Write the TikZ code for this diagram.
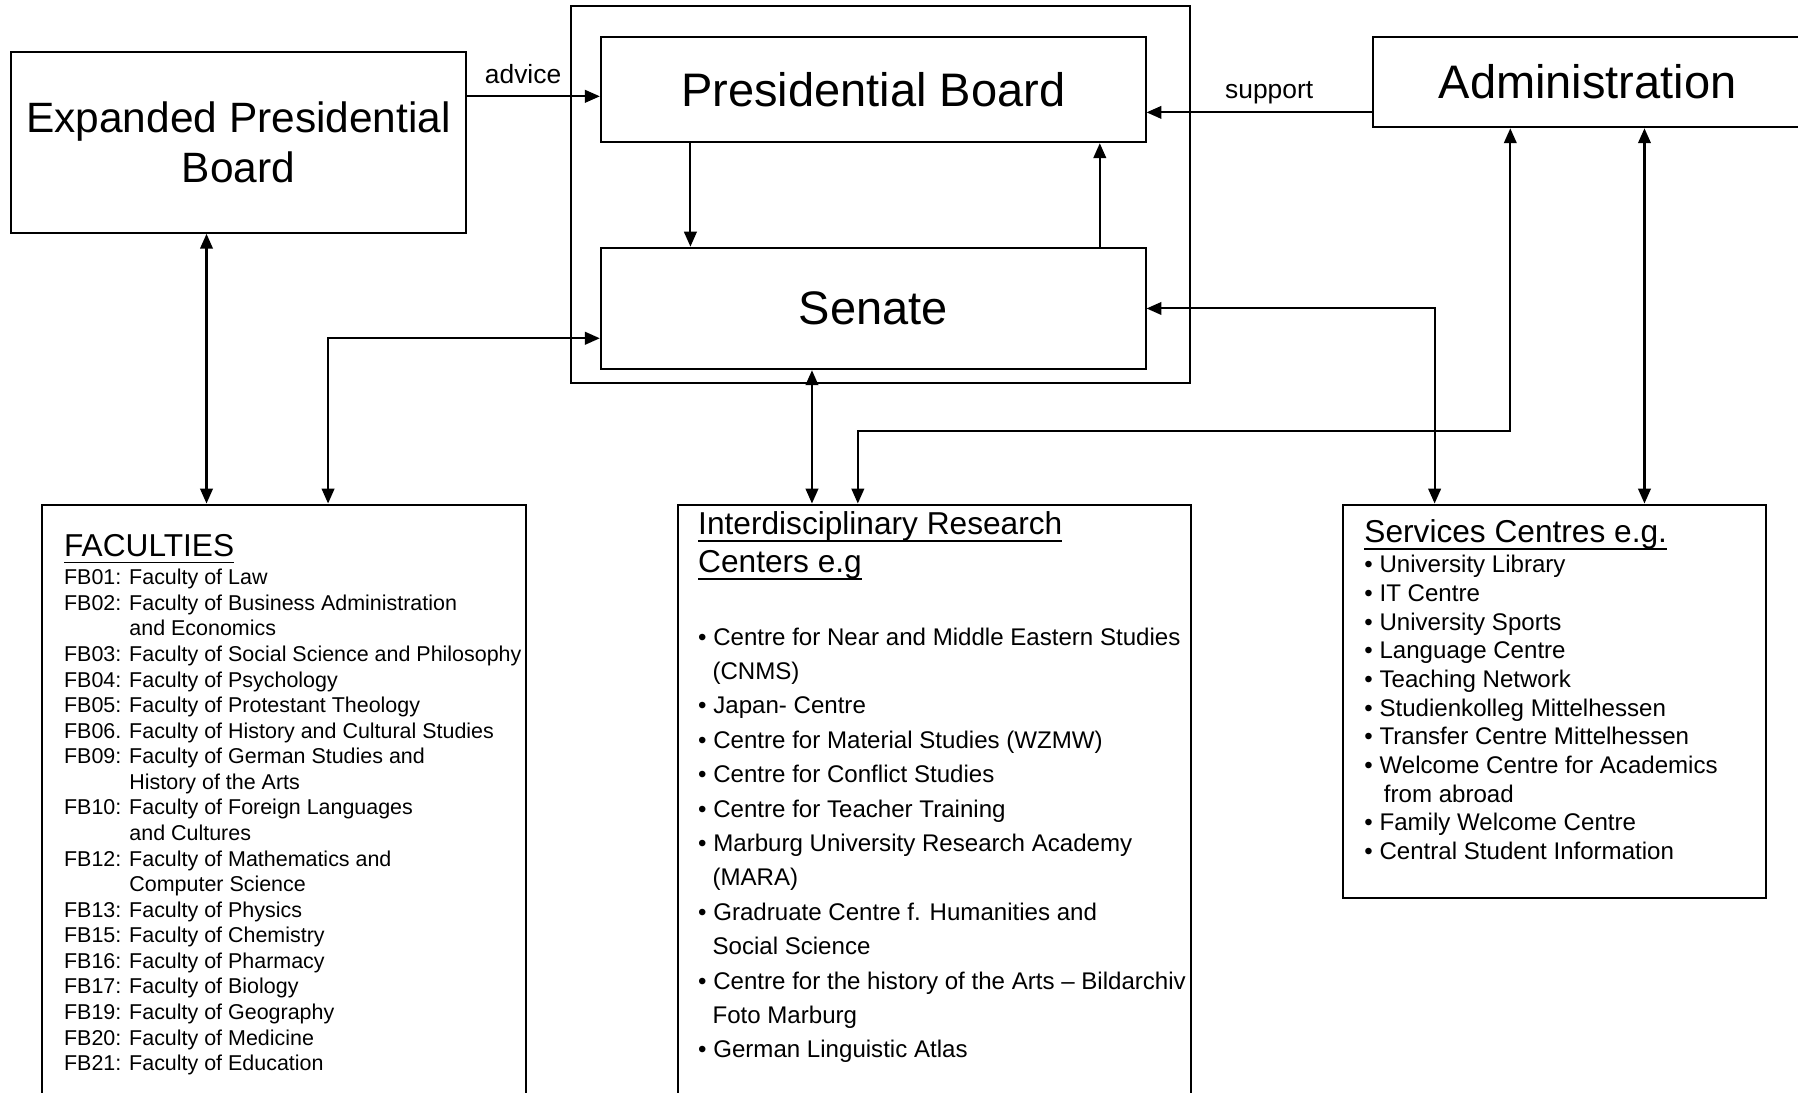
\documentclass[tikz,border=0pt]{standalone}
\usepackage{fontspec}
\setmainfont{Liberation Sans}
\newsavebox\ulsave
\newcommand\ulbox[1]{\sbox\ulsave{#1}\rlap{\rule[-6.4pt]{\wd\ulsave}{1.6pt}}\usebox\ulsave}
\usetikzlibrary{arrows.meta,positioning,calc}

\begin{document}
\begin{tikzpicture}
[x=1pt, y=-1pt, line width=1.8pt,
>={Triangle[length=13pt,width=11pt]},
box/.style={draw, rectangle, inner sep=0pt, align=center},
big/.style={font=\fontsize{41}{46}\selectfont},
mid/.style={font=\fontsize{37}{44}\selectfont},
lbl/.style={font=\fontsize{23}{26}\selectfont, inner sep=3pt},
ttl/.style={font=\fontsize{27.6}{33}\selectfont, anchor=base west, inner sep=0pt},
facl/.style={font=\fontsize{18.7}{22}\selectfont, anchor=base west, inner sep=0pt},
item/.style={font=\fontsize{21}{25}\selectfont, anchor=base west, inner sep=0pt}]

\useasboundingbox (0,0) rectangle (1568,953);
\fill[white] (0,0) rectangle (1568,953);
\clip (0,0) rectangle (1568,953);

% boxes
\node (frame) at (768,169.5)[box, minimum width=540pt, minimum height=329pt] {};
\node (pb) at (761.5,78)[box, big, minimum width=475pt, minimum height=92pt] {Presidential Board};
\node (sen) at (761.5,269)[box, big, minimum width=475pt, minimum height=106pt] {Senate};
\node (epb) at (208,124)[box, mid, minimum width=396pt, minimum height=158pt] {Expanded Presidential\\Board};
\node (adm) at (1384.5,71.5)[box, big, minimum width=375pt, minimum height=79pt] {Administration};
\node (fac) at (248,705)[box, minimum width=422pt, minimum height=530pt] {};
\node (irc) at (815,705)[box, minimum width=448pt, minimum height=530pt] {};
\node (srv) at (1355.5,611.5)[box, minimum width=369pt, minimum height=343pt] {};

% box texts
\node (facttl) at (55,485)[ttl] {\ulbox{FACULTIES}};
\foreach \t [count=\i] in {FB01: Faculty of Law,
  FB02: Faculty of Business Administration, \hspace*{57pt}and Economics,
  FB03: Faculty of Social Science and Philosophy,
  FB04: Faculty of Psychology, FB05: Faculty of Protestant Theology,
  FB06. Faculty of History and Cultural Studies,
  FB09: Faculty of German Studies and, \hspace*{57pt}History of the Arts,
  FB10: Faculty of Foreign Languages, \hspace*{57pt}and Cultures,
  FB12: Faculty of Mathematics and, \hspace*{57pt}Computer Science,
  FB13: Faculty of Physics, FB15: Faculty of Chemistry,
  FB16: Faculty of Pharmacy, FB17: Faculty of Biology,
  FB19: Faculty of Geography, FB20: Faculty of Medicine,
  FB21: Faculty of Education}
  \node (fac\i) at (55,{510+22.3*(\i-1)})[facl] {\t};

\node (ircttl1) at (608,466)[ttl] {\ulbox{Interdisciplinary Research}};
\node (ircttl2) at (608,499)[ttl] {\ulbox{Centers e.g}};
\foreach \t [count=\i] in {• Centre for Near and Middle Eastern Studies,
  \hspace*{12.5pt}(CNMS), • Japan- Centre,
  • Centre for Material Studies (WZMW), • Centre for Conflict Studies,
  • Centre for Teacher Training, • Marburg University Research Academy,
  \hspace*{12.5pt}(MARA), • Gradruate Centre f. Humanities and,
  \hspace*{12.5pt}Social Science,
  • Centre for the history of the Arts – Bildarchiv,
  \hspace*{12.5pt}Foto Marburg, • German Linguistic Atlas}
  \node (irc\i) at (608,{562.5+30*(\i-1)})[item] {\t};

\node (srvttl) at (1189,473)[ttl] {\ulbox{Services Centres e.g.}};
\foreach \t [count=\i] in {• University Library, • IT Centre,
  • University Sports, • Language Centre, • Teaching Network,
  • Studienkolleg Mittelhessen, • Transfer Centre Mittelhessen,
  • Welcome Centre for Academics, \hspace*{17pt}from abroad,
  • Family Welcome Centre, • Central Student Information}
  \node (srv\i) at (1189,{499.5+25*(\i-1)})[item] {\t};

% connectors
\coordinate (advr) at ([yshift=-6pt]pb.west);
\coordinate (supl) at ([yshift=-26.5pt]adm.west);
\draw[->] (epb.east |- advr) -- (advr) node[lbl, pos=0.424, above=7pt] {advice};
\draw[->] (supl) -- (pb.east |- supl) node[lbl, pos=0.455, above=3pt] {support};
\draw[->] ([xshift=79pt]pb.south west) -- ([xshift=79pt]sen.north west);
\draw[->] ([xshift=436pt]sen.north west) -- ([xshift=436pt]pb.south west);
\draw[<->] (sen.east) -| ([xshift=81pt]srv.north west);
\draw[<->] ([xshift=171pt]epb.south west) -- ([xshift=144pt]fac.north west);
\draw[<->] ([xshift=250pt]fac.north west) |- ([yshift=-26pt]sen.west);
\draw[<->] ([xshift=185pt]sen.south west) -- ([xshift=118pt]irc.north west);
\draw[<->] ([xshift=121pt]adm.south west) -- ++(0,264) -| ([xshift=158pt]irc.north west);
\draw[<->] ([xshift=238pt]adm.south west) -- ([xshift=264pt]srv.north west);

\end{tikzpicture}
\end{document}
